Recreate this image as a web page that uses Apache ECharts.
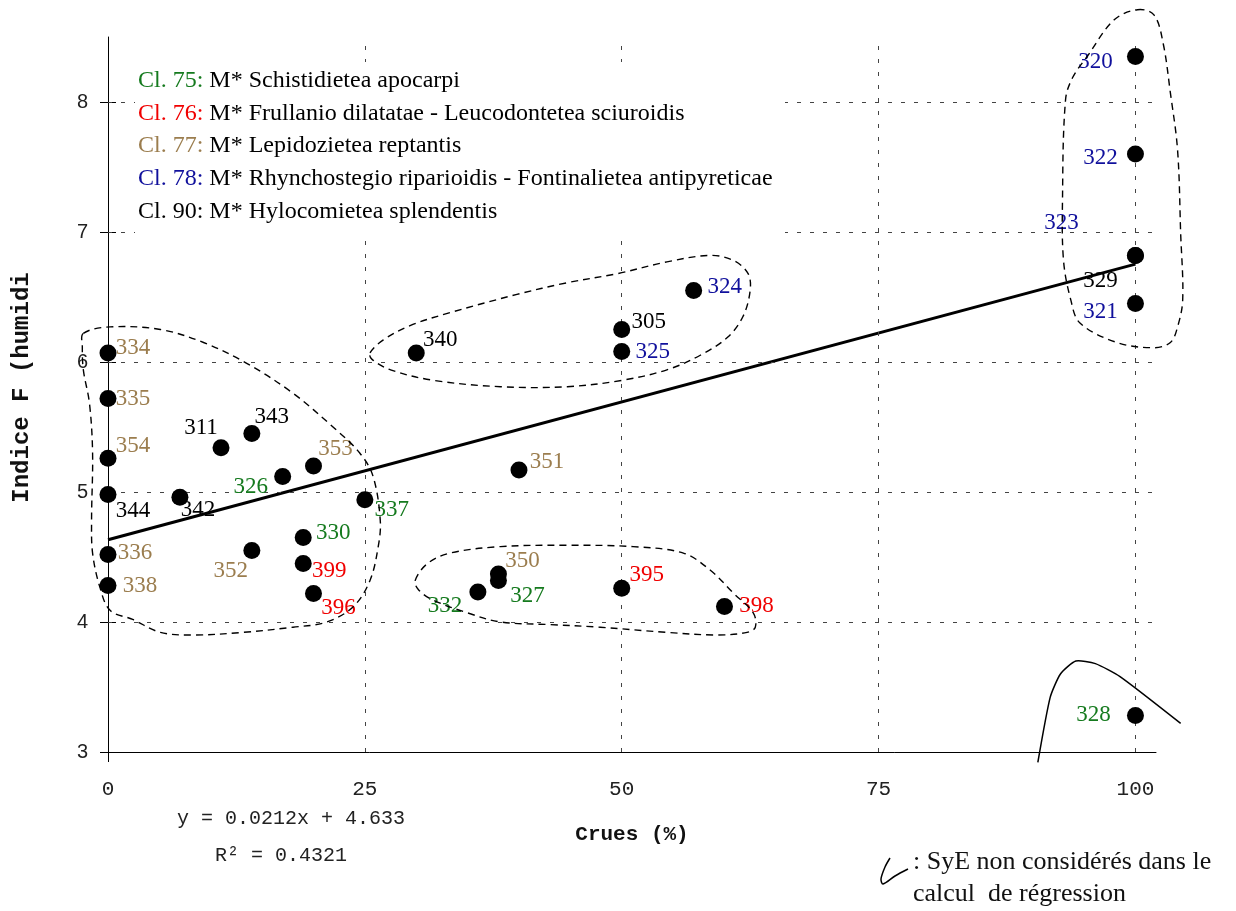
<!DOCTYPE html>
<html>
<head>
<meta charset="utf-8">
<script src="https://cdn.jsdelivr.net/npm/echarts@6.0.0/dist/echarts.min.js"></script>
<style>
  html, body { margin: 0; padding: 0; background: #fff; }
  #main { width: 1236px; height: 911px; }
</style>
</head>
<body>
<div id="main"></div>
<script>
// relevés (SyE) : numéro, crues (%), indice F, classe
var ids     = ['320','322','323','329','321','324','305','325','340','351','334','335','354','344','336','338','311','343','342','326','353','337','330','352','399','396','350','327','332','395','398','328'];
var crues   = [100, 100, 100, 100, 100, 57, 50, 50, 30, 40, 0, 0, 0, 0, 0, 0, 11, 14, 7, 17, 20, 25, 19, 14, 19, 20, 38, 38, 36, 50, 60, 100];
var indiceF = [8.35, 7.6, 6.82, 6.82, 6.45, 6.55, 6.25, 6.08, 6.07, 5.17, 6.07, 5.72, 5.26, 4.98, 4.52, 4.28, 5.34, 5.45, 4.96, 5.12, 5.2, 4.94, 4.65, 4.55, 4.45, 4.22, 4.37, 4.32, 4.23, 4.26, 4.12, 3.28];
var classe  = [78, 78, 78, 90, 78, 78, 90, 78, 90, 77, 77, 77, 77, 90, 77, 77, 90, 90, 90, 75, 77, 75, 75, 77, 76, 76, 77, 75, 75, 76, 76, 75];

var classCodes = [75, 76, 77, 78, 90];
var classNames = [
    'M* Schistidietea apocarpi',
    'M* Frullanio dilatatae - Leucodontetea sciuroidis',
    'M* Lepidozietea reptantis',
    'M* Rhynchostegio riparioidis - Fontinalietea antipyreticae',
    'M* Hylocomietea splendentis'
];

// droite de régression
var regSlope = 0.0212;
var regIntercept = 4.633;
var regX = [0, 100];

var xTicks = [0, 25, 50, 75, 100];
var yTicks = [3, 4, 5, 6, 7, 8];

// contours dessinés à la main (coordonnées des données)
var envGauche = [[-2.4,6.22],[0.2,6.27],[5.1,6.25],[9.3,6.15],[13.5,5.99],[18,5.76],[21.9,5.5],[24.5,5.3],[25.8,5.12],[26.5,4.78],[26.3,4.58],[25.5,4.32],[23.9,4.12],[21.3,4.0],[18,3.96],[13.1,3.92],[8.3,3.9],[5.1,3.92],[2.4,4.02],[0.2,4.09],[-0.8,4.27],[-1.5,4.53],[-1.6,4.78],[-1.5,5.3],[-1.8,5.68],[-2.4,5.94],[-2.5,6.12]];
var envHaut = [[25.5,6.07],[26.8,6.17],[29.4,6.28],[33.3,6.38],[39.8,6.52],[44.7,6.61],[49.6,6.68],[54.4,6.77],[58.6,6.82],[60.9,6.78],[62.3,6.68],[62.5,6.55],[61.8,6.35],[60.3,6.19],[57.6,6.05],[54.4,5.94],[50.1,5.86],[44.7,5.81],[38.2,5.81],[31.6,5.86],[27.5,5.94],[25.7,6.02]];
var envBas = [[29.9,4.32],[31.1,4.45],[33.3,4.53],[38.2,4.58],[44.7,4.59],[51.1,4.58],[56,4.53],[58.6,4.4],[60.9,4.22],[62.8,4.07],[63,3.96],[62.2,3.92],[59.3,3.9],[54.4,3.92],[47.9,3.96],[43,3.98],[38.2,4.0],[35,4.07],[31.6,4.17],[30.2,4.25]];
var envDroite = [[100.2,8.71],[101.8,8.67],[102.7,8.45],[103.4,8.07],[104.1,7.63],[104.4,6.99],[104.6,6.48],[104.1,6.27],[103.4,6.15],[101.8,6.11],[98.2,6.15],[94.6,6.3],[93.7,6.48],[93,6.78],[92.9,7.25],[93.2,8.02],[93.9,8.19],[95.3,8.35],[97.9,8.63]];
var courbe328 = [[90.5,2.92],[91.7,3.42],[92.7,3.6],[94.2,3.7],[96.1,3.68],[98.5,3.58],[104.4,3.22]];

// placement des étiquettes (décalage en px depuis le point)
var labelOffset = {
    '320':[-40,5], '322':[-35,4], '323':[-74,-32], '329':[-35,26], '321':[-35,8],
    '324':[31,-4], '305':[27,-8], '325':[31,0], '340':[24,-13], '351':[28,-8],
    '334':[25,-5], '335':[25,1], '354':[25,-12], '344':[25,16], '336':[27,-1], '338':[32,0],
    '311':[-20,-20], '343':[20,-17], '342':[18,13], '326':[-32,11], '353':[22,-17],
    '337':[27,10], '330':[30,-5], '352':[-21,20], '399':[26,7], '396':[25,15],
    '350':[24,-13], '327':[29,16], '332':[-33,14], '395':[25,-13], '398':[32,0], '328':[-42,-1]
};
var classColor = { 75: '#157a1e', 76: '#f00000', 77: '#9b7d4e', 78: '#10109c', 90: '#000000' };

var serif = '"Liberation Serif", "Times New Roman", serif';
var mono = '"Liberation Mono", "Courier New", monospace';

var dom = document.getElementById('main');
var myChart = echarts.init(dom, null, { renderer: 'canvas' });

var points = ids.map(function (id, i) {
    return {
        name: id,
        value: [crues[i], indiceF[i]],
        label: {
            show: true,
            position: 'inside',
            offset: labelOffset[id],
            color: classColor[classe[i]],
            formatter: id
        }
    };
});

var gridLines = xTicks.slice(1).map(function (v) { return { xAxis: v }; })
    .concat(yTicks.slice(1).map(function (v) { return { yAxis: v }; }));

var legendTexts = classCodes.map(function (c, i) {
    return {
        id: 'leg' + i,
        type: 'text',
        left: 138,
        top: 69 + i * 32.6,
        z: 101,
        style: {
            text: '{c|Cl. ' + c + ':} ' + classNames[i],
            font: '24px ' + serif,
            fill: '#000',
            rich: {
                c: { fill: classColor[c], font: '24px ' + serif }
            }
        }
    };
});

myChart.setOption({
    animation: false,
    backgroundColor: '#fff',
    grid: { left: 108, right: 80, top: 37, bottom: 159 },
    xAxis: {
        type: 'value',
        min: 0,
        max: 102,
        interval: 25,
        name: 'Crues (%)',
        nameLocation: 'middle',
        nameGap: 72,
        nameTextStyle: { fontFamily: mono, fontWeight: 'bold', fontSize: 21, color: '#111' },
        axisLine: { lineStyle: { color: '#000', width: 1 } },
        axisTick: { show: true, customValues: [0], length: 10, lineStyle: { color: '#000' } },
        axisLabel: { customValues: xTicks, fontFamily: mono, fontSize: 21, color: '#222', margin: 27 },
        splitLine: { show: false }
    },
    yAxis: [{
        type: 'value',
        min: 3,
        max: 8.5,
        interval: 1,
        name: 'Indice F (humidi',
        nameLocation: 'middle',
        nameGap: 74,
        nameTextStyle: { fontFamily: mono, fontWeight: 'bold', fontSize: 24, color: '#111', padding: [0, 0, 0, 14] },
        axisLine: { show: true, lineStyle: { color: '#000', width: 1 } },
        axisTick: { show: true, customValues: yTicks, length: 8, lineStyle: { color: '#000' } },
        axisLabel: { customValues: yTicks, fontFamily: '"Liberation Sans", Arial, sans-serif', fontSize: 20, color: '#222', margin: 20 },
        splitLine: { show: false }
    }, {
        type: 'value',
        min: 3,
        max: 8.5,
        interval: 1,
        position: 'left',
        axisLine: { show: false },
        axisTick: { show: true, inside: true, customValues: yTicks, length: 8, lineStyle: { color: '#000' } },
        axisLabel: { show: false },
        splitLine: { show: false }
    }],
    graphic: [{
        id: 'legBg',
        type: 'rect',
        shape: { x: 135, y: 62, width: 650, height: 174 },
        z: 100,
        style: { fill: '#fff' }
    }].concat(legendTexts).concat([{
        id: 'eq',
        type: 'text',
        left: 177,
        top: 809,
        z: 101,
        style: { text: 'y = 0.0212x + 4.633', font: '20px ' + mono, fill: '#222' }
    }, {
        id: 'r2',
        type: 'text',
        left: 215,
        top: 846,
        z: 101,
        style: { text: 'R² = 0.4321', font: '20px ' + mono, fill: '#222' }
    }, {
        id: 'hook',
        type: 'polyline',
        z: 101,
        shape: { points: [[890, 858], [885, 867], [881, 879], [883, 884], [895, 876], [908, 869]], smooth: 0.3 },
        style: { stroke: '#000', lineWidth: 1.5, fill: null }
    }, {
        id: 'note',
        type: 'text',
        left: 913,
        top: 846,
        z: 101,
        style: { text: ': SyE non considérés dans le\ncalcul  de régression', font: '26px ' + serif, fill: '#111', lineHeight: 32 }
    }]),
    series: [{
        type: 'line',
        data: [],
        silent: true,
        z: 1,
        markLine: {
            silent: true,
            symbol: 'none',
            label: { show: false },
            lineStyle: { color: '#444', width: 1, type: [4, 9] },
            data: gridLines
        }
    }, {
        type: 'line',
        data: regX.map(function (x) { return [x, regSlope * x + regIntercept]; }),
        symbol: 'none',
        silent: true,
        z: 4,
        lineStyle: { color: '#000', width: 3 }
    }, {
        type: 'scatter',
        symbol: 'circle',
        symbolSize: 17,
        z: 5,
        itemStyle: { color: '#000', opacity: 1 },
        label: { fontFamily: serif, fontSize: 23 },
        data: points
    }]
});

// contours : placés via l'échelle des axes, hors de la zone de tracé
function toPx(arr) {
    return arr.map(function (p) { return myChart.convertToPixel({ gridIndex: 0 }, p); });
}
function envelope(id, data) {
    return {
        id: id,
        type: 'polygon',
        z: 50,
        silent: true,
        shape: { points: toPx(data), smooth: 0.35 },
        style: { stroke: '#000', lineWidth: 1.4, fill: null, lineDash: [7, 5] }
    };
}
myChart.setOption({
    graphic: [
        envelope('envG', envGauche),
        envelope('envH', envHaut),
        envelope('envB', envBas),
        envelope('envD', envDroite),
        {
            id: 'c328',
            type: 'polyline',
            z: 50,
            silent: true,
            shape: { points: toPx(courbe328), smooth: 0.2 },
            style: { stroke: '#000', lineWidth: 1.5, fill: null }
        }
    ]
});

window.onresize = function () {
    myChart.resize();
};
</script>
</body>
</html>
